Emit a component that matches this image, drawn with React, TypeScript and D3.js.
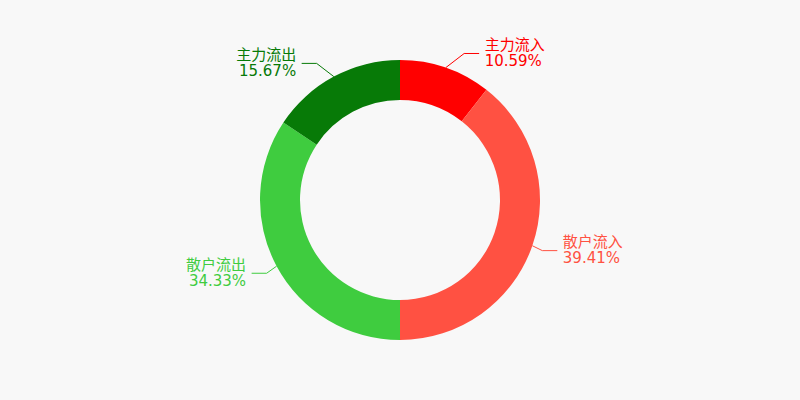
import React, { useEffect, useRef } from "react";
import * as d3 from "d3";

// slices in drawing order, clockwise from 12 o'clock
const names = ["主力流入", "散户流入", "散户流出", "主力流出"];
const values = [10.59, 39.41, 34.33, 15.67];
const colors = ["#ff0000", "#ff5142", "#3fcc3f", "#077a07"];

const App: React.FC = () => {
  const ref = useRef<SVGSVGElement>(null);

  useEffect(() => {
    if (!ref.current) return;
    const width = 800;
    const height = 400;
    const cx = width / 2;
    const cy = height / 2;
    const outerR = 140;
    const innerR = 100;

    const svg = d3.select(ref.current);
    svg.selectAll("*").remove();

    svg.append("rect").attr("width", width).attr("height", height).attr("fill", "#f8f8f8");

    const g = svg.append("g").attr("transform", `translate(${cx},${cy})`);

    const data = names.map((n, i) => ({ name: n, value: values[i], color: colors[i] }));
    const pie = d3
      .pie<(typeof data)[number]>()
      .sort(null)
      .value((d) => d.value);
    const arcs = pie(data);

    const arc = d3
      .arc<d3.PieArcDatum<(typeof data)[number]>>()
      .innerRadius(innerR)
      .outerRadius(outerR);

    g.selectAll("path.slice")
      .data(arcs)
      .join("path")
      .attr("class", "slice")
      .attr("d", arc)
      .attr("fill", (d) => d.data.color);

    // label lines + texts
    arcs.forEach((a) => {
      const mid = (a.startAngle + a.endAngle) / 2;
      const sx = Math.sin(mid);
      const sy = -Math.cos(mid);
      const side = sx >= 0 ? 1 : -1;
      const x0 = outerR * sx;
      const y0 = outerR * sy;
      const y1 = (outerR + 15) * sy;
      const dy = Math.abs(y1 - y0);
      const x1 = x0 + side * Math.max(dy * 1.3, 10);
      const x2 = x1 + side * 15;
      const tx = x2 + side * 5.5;

      g.append("polyline")
        .attr("points", `${x0},${y0} ${x1},${y1} ${x2},${y1}`)
        .attr("fill", "none")
        .attr("stroke", a.data.color)
        .attr("stroke-width", 1);

      const t = g
        .append("text")
        .attr("text-anchor", side > 0 ? "start" : "end")
        .attr("fill", a.data.color)
        .style("font-family", "'DejaVu Sans', 'Noto Sans CJK SC', sans-serif")
        .style("font-size", "15px");
      t.append("tspan")
        .attr("x", tx)
        .attr("y", y1 - 8.5)
        .attr("dominant-baseline", "central")
        .text(a.data.name);
      t.append("tspan")
        .attr("x", tx)
        .attr("y", y1 + 7.8)
        .attr("dominant-baseline", "central")
        .text(`${a.data.value.toFixed(2)}%`);
    });
  }, []);

  return (
    <svg
      ref={ref}
      width={800}
      height={400}
      style={{ position: "absolute", left: 0, top: 0, display: "block" }}
    />
  );
};

export default App;
